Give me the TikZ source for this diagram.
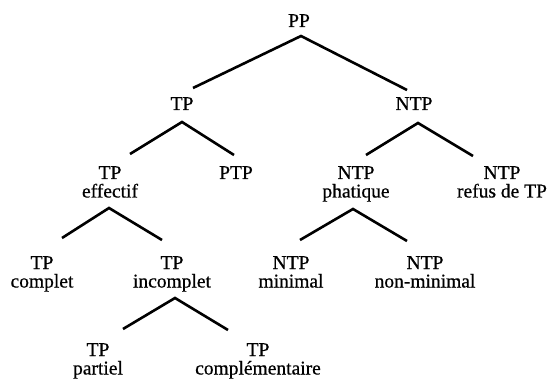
\documentclass[tikz,border=0pt]{standalone}
\usepackage{fontspec}
\setmainfont{Liberation Serif}
\newfontfamily\lblfont[BoldFont={Liberation Serif},BoldFeatures={FakeBold=0.6}]{Liberation Serif}
\begin{document}
\begin{tikzpicture}[x=1pt,y=-1pt,
  lbl/.style={anchor=base,align=center,inner sep=0pt,font=\lblfont\bfseries\fontsize{19.5}{18.5}\selectfont},
  branch/.style={line width=2.6pt,line cap=butt}]
\useasboundingbox[fill=white] (0,0) rectangle (551,379);
% labels (anchor = baseline of the last line)
\node[lbl] (pp)   at (299,27)    {PP};
\node[lbl] (tp)   at (182,110)   {TP};
\node[lbl] (ntp)  at (414,110)   {NTP};
\node[lbl] (tpe)  at (110,197.5) {TP\\effectif};
\node[lbl] (ptp)  at (236,179)   {PTP};
\node[lbl] (ntpp) at (356,197.5) {NTP\\phatique};
\node[lbl] (ntpr) at (502,197.5) {NTP\\refus de TP};
\node[lbl] (tpc)  at (42,287.5)  {TP\\complet};
\node[lbl] (tpi)  at (172,287.5) {TP\\incomplet};
\node[lbl] (ntpm) at (291,287.5) {NTP\\minimal};
\node[lbl] (ntpn) at (425,287.5) {NTP\\non-minimal};
\node[lbl] (tpp)  at (98,374.5)  {TP\\partiel};
\node[lbl] (tpx)  at (258,374.5) {TP\\complémentaire};
% branch points
\coordinate (ppA)  at (301,36);
\coordinate (ppL)  at (193,88);
\coordinate (ppR)  at (407,90);
\coordinate (tpA)  at (182,122);
\coordinate (tpL)  at (130,154);
\coordinate (tpR)  at (234,155);
\coordinate (ntpA) at (418,123);
\coordinate (ntpL) at (366,155);
\coordinate (ntpR) at (473,156);
\coordinate (tpeA) at (109,208);
\coordinate (tpeL) at (62,238);
\coordinate (tpeR) at (162,240);
\coordinate (ntppA) at (353,209);
\coordinate (ntppL) at (300,240);
\coordinate (ntppR) at (407,241);
\coordinate (tpiA) at (175,298);
\coordinate (tpiL) at (123,329);
\coordinate (tpiR) at (228,330);
% connectors
\draw[branch] (ppL) -- (ppA) -- (ppR);
\draw[branch] (tpL) -- (tpA) -- (tpR);
\draw[branch] (ntpL) -- (ntpA) -- (ntpR);
\draw[branch] (tpeL) -- (tpeA) -- (tpeR);
\draw[branch] (ntppL) -- (ntppA) -- (ntppR);
\draw[branch] (tpiL) -- (tpiA) -- (tpiR);
\end{tikzpicture}
\end{document}
